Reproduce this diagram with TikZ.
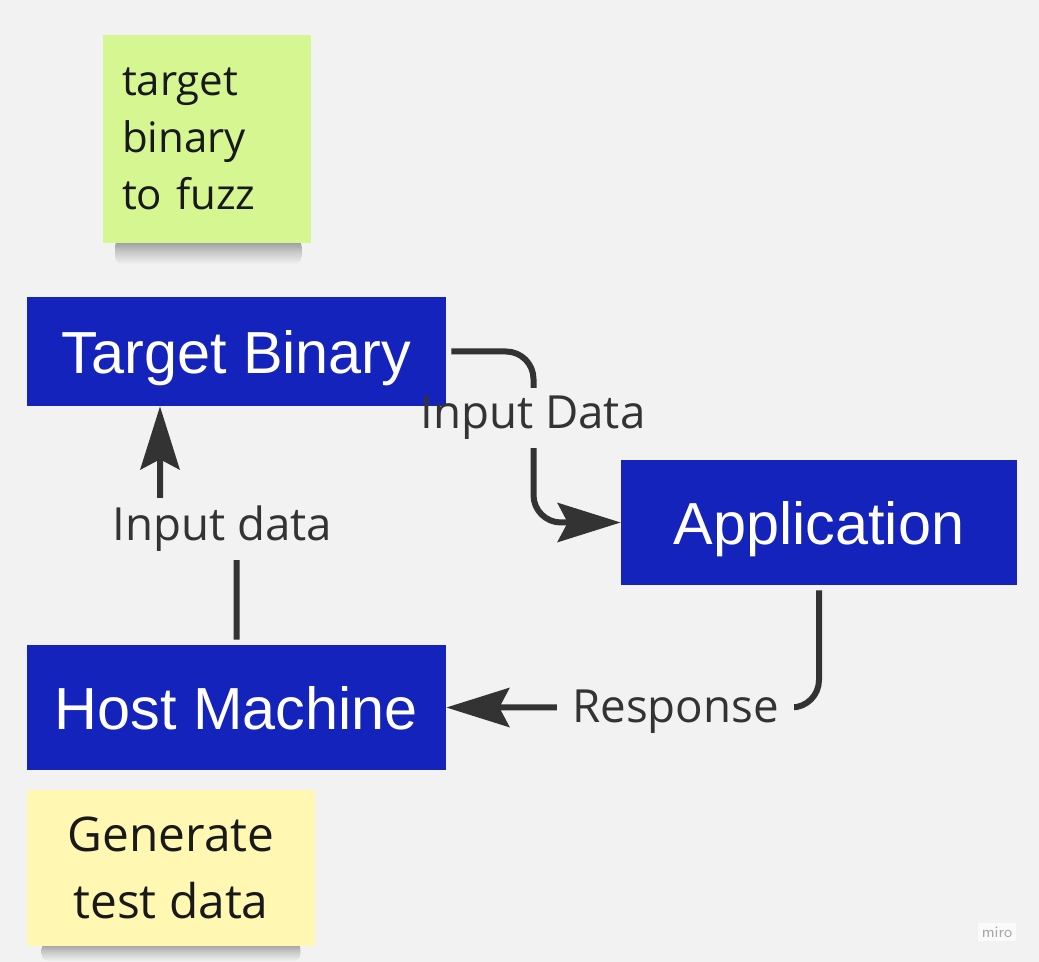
\documentclass[tikz,border=0pt]{standalone}
\usepackage{fontspec}
\setmainfont{Open Sans}
\newfontfamily\boxfont{Liberation Sans}
\usetikzlibrary{arrows.meta,calc}
\pgfdeclarelayer{wires}
\pgfsetlayers{wires,main}
\definecolor{boardgrey}{HTML}{F2F2F2}
\definecolor{miroblue}{RGB}{21,35,189}
\definecolor{inkgrey}{HTML}{333333}
\definecolor{stickygreen}{RGB}{214,246,146}
\definecolor{stickyyellow}{RGB}{255,247,178}
\tikzset{
  block/.style={fill=miroblue, text=white, inner sep=0pt, text depth=0pt,
                font=\boxfont\fontsize{33.8pt}{40pt}\selectfont},
  lbl/.style={text=inkgrey, inner xsep=0.3cm, inner ysep=0.16cm,
              font=\fontsize{26pt}{31pt}\selectfont},
  flow/.style={draw=inkgrey, line width=0.12cm, rounded corners=0.55cm,
               shorten <=0.1cm,
               -{Stealth[length=1.26cm, width=0.78cm, inset=0.2cm]}},
  sticky/.style={text=black!90, inner sep=0pt},
  stickyshadow/.style={top color=black!45, bottom color=boardgrey,
                       middle color=black!22, rounded corners=0.15cm},
}
\begin{document}
\begin{tikzpicture}[x=0.02cm,y=-0.02cm]
  \begin{pgfonlayer}{wires}
    \fill[boardgrey] (0,0) rectangle (1039,962);
  \end{pgfonlayer}
  \useasboundingbox (0,0) rectangle (1039,962);

  % sticky notes
  \node[sticky, fill=stickygreen, minimum width=4.16cm, minimum height=4.16cm,
        text width=3.4cm, inner xsep=0.38cm, align=left,
        font=\fontsize{23.9pt}{32.4pt}\selectfont] (notetarget) at (207,139)
    {target\\binary\\to fuzz};
  \node[sticky, fill=stickyyellow, minimum width=5.76cm, minimum height=3.12cm,
        align=center, font=\fontsize{27.2pt}{38pt}\selectfont] (notegen) at (171,868)
    {Generate\\test data};

  % blocks
  \node[block, minimum width=8.38cm, minimum height=2.18cm] (target) at (236.5,351.5)
    {Target Binary};
  \node[block, minimum width=7.92cm, minimum height=2.5cm] (app) at (819,522.5)
    {Application};
  \node[block, minimum width=8.38cm, minimum height=2.5cm] (host) at (236.5,707.5)
    {Host Machine};

  % connector labels
  \node[lbl] (lbldata) at (533,418) {Input Data};
  \node[lbl] (lblinput) at (222.5,529) {Input data};
  \node[lbl] (lblresp) at (675.5,712) {Response};

  % connectors, broken behind the labels
  \begin{pgfonlayer}{wires}
    \shade[stickyshadow] ([xshift=0.25cm,yshift=0.1cm]notetarget.south west)
      rectangle ([xshift=-0.2cm,yshift=-0.42cm]notetarget.south east);
    \shade[stickyshadow] ([xshift=0.3cm,yshift=0.1cm]notegen.south west)
      rectangle ([xshift=-0.3cm,yshift=-0.3cm]notegen.south east);
    \coordinate (mid) at ($(target.east)!0.5!(app.west)$);
    \draw[flow] (target.east) -| (mid) |- (app.west);
    \coordinate (jog) at (160,529);
    \draw[flow] (host.north) |- (jog) -- (jog |- target.south);
    \draw[flow] (app.south) |- (host.east);
    \foreach \l in {lbldata,lblinput,lblresp}
      \fill[boardgrey] (\l.south west) rectangle (\l.north east);
  \end{pgfonlayer}

  \node[fill=white!60!boardgrey, text=black!35, inner sep=2pt,
        font=\sffamily\fontsize{9pt}{10pt}\selectfont] (miro) at (997,932) {miro};
\end{tikzpicture}
\end{document}
